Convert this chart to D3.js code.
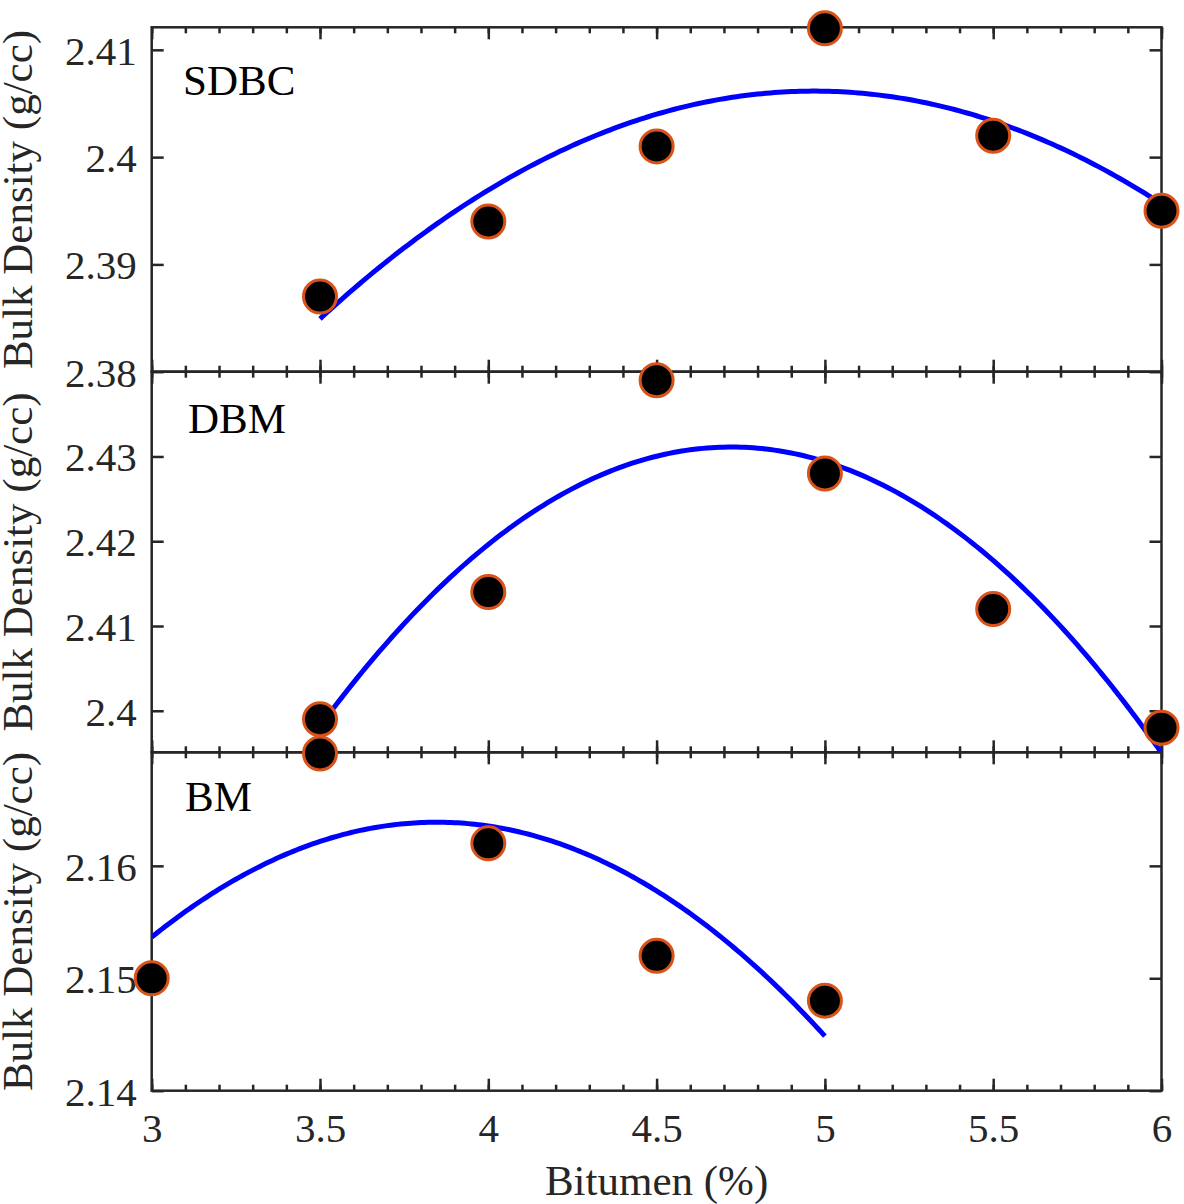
<!DOCTYPE html>
<html>
<head>
<meta charset="utf-8">
<script src="https://cdn.jsdelivr.net/npm/d3@7"></script>
<style>
  html, body { margin: 0; padding: 0; background: #fff; }
  svg { display: block; }
</style>
</head>
<body>
<svg id="chart" width="1184" height="1204"></svg>
<script>
// ---- data ----
const panelNames = ["SDBC", "DBM", "BM"];
const bitumenSDBC = [3.5, 4, 4.5, 5, 5.5, 6];
const densitySDBC = [2.387, 2.394, 2.401, 2.412, 2.402, 2.395];
const bitumenDBM = [3.5, 4, 4.5, 5, 5.5, 6];
const densityDBM = [2.399, 2.414, 2.439, 2.428, 2.412, 2.398];
const bitumenBM = [3, 3.5, 4, 4.5, 5];
const densityBM = [2.150, 2.170, 2.162, 2.152, 2.148];
const xTicks = [3, 3.5, 4, 4.5, 5, 5.5, 6];
const xMinorTicks = d3.range(30, 61).map(d => d / 10);
const yTicksSDBC = [2.38, 2.39, 2.40, 2.41];
const yTicksDBM = [2.40, 2.41, 2.42, 2.43];
const yTicksBM = [2.14, 2.15, 2.16];
const yDomainSDBC = [2.38, 2.4121];
const yDomainDBM = [2.3951, 2.4400];
const yDomainBM = [2.14, 2.1701];
const xDomain = [3, 6];
const xLabel = "Bitumen (%)";
const yLabel = "Bulk Density (g/cc)";

// ---- layout ----
const svg = d3.select("#chart");
const left = 151.7, right = 1161.5;
const panelRanges = [[27.3, 371.7], [371.7, 752.3], [752.3, 1090.7]];
const axisColor = "#262626";
const font = "'Liberation Serif', 'Times New Roman', serif";

const x = d3.scaleLinear().domain(xDomain).range([left, right]);

// least-squares quadratic fit through the plotted points
function quadFit(xs, ys) {
  const n = xs.length;
  let s = [0, 0, 0, 0, 0], t = [0, 0, 0];
  for (let i = 0; i < n; i++) {
    for (let k = 0; k <= 4; k++) s[k] += Math.pow(xs[i], k);
    for (let k = 0; k <= 2; k++) t[k] += ys[i] * Math.pow(xs[i], k);
  }
  const M = [[s[0], s[1], s[2], t[0]], [s[1], s[2], s[3], t[1]], [s[2], s[3], s[4], t[2]]];
  for (let c = 0; c < 3; c++) {
    for (let r = c + 1; r < 3; r++) {
      const f = M[r][c] / M[c][c];
      for (let k = c; k < 4; k++) M[r][k] -= f * M[c][k];
    }
  }
  const coef = [0, 0, 0];
  for (let r = 2; r >= 0; r--) {
    let v = M[r][3];
    for (let k = r + 1; k < 3; k++) v -= M[r][k] * coef[k];
    coef[r] = v / M[r][r];
  }
  return xv => coef[0] + coef[1] * xv + coef[2] * xv * xv;
}

const panels = [
  { name: panelNames[0], xs: bitumenSDBC, ys: densitySDBC, ticks: yTicksSDBC, domain: yDomainSDBC },
  { name: panelNames[1], xs: bitumenDBM, ys: densityDBM, ticks: yTicksDBM, domain: yDomainDBM },
  { name: panelNames[2], xs: bitumenBM, ys: densityBM, ticks: yTicksBM, domain: yDomainBM }
];

const fmt = d => String(+(+d).toFixed(2));
const defs = svg.append("defs");
const layers = panels.map(() => svg.append("g"));
const markerLayers = panels.map(() => svg.append("g"));

panels.forEach((p, i) => {
  const [top, bottom] = panelRanges[i];
  const y = d3.scaleLinear().domain(p.domain).range([bottom, top]);
  const g = layers[i];

  // axes
  const styleAxis = sel => {
    sel.select(".domain").remove();
    sel.selectAll("line").attr("stroke", axisColor).attr("stroke-width", 2.5);
    sel.selectAll("text").attr("fill", axisColor).style("font-family", font).style("font-size", "41px");
  };

  g.append("g").attr("transform", `translate(${left},0)`)
    .call(d3.axisLeft(y).tickValues(p.ticks).tickSize(-12).tickPadding(15).tickFormat(fmt))
    .call(styleAxis)
    .call(s => s.selectAll("text").attr("dy", "0.35em"));
  g.append("g").attr("transform", `translate(${right},0)`)
    .call(d3.axisRight(y).tickValues(p.ticks).tickSize(-12).tickFormat(""))
    .call(styleAxis);

  [[top, d3.axisTop], [bottom, d3.axisBottom]].forEach(([yy, ax]) => {
    g.append("g").attr("transform", `translate(0,${yy})`)
      .call(ax(x).tickValues(xMinorTicks).tickSize(-6).tickFormat(""))
      .call(styleAxis);
    const major = g.append("g").attr("transform", `translate(0,${yy})`)
      .call(ax(x).tickValues(xTicks).tickSize(-12)
        .tickPadding(i === 2 && ax === d3.axisBottom ? 22 : 3)
        .tickFormat(i === 2 && ax === d3.axisBottom ? fmt : ""))
      .call(styleAxis);
    if (i === 2 && ax === d3.axisBottom) major.selectAll("text").attr("dy", "0.71em");
  });

  g.append("rect")
    .attr("x", left).attr("y", top)
    .attr("width", right - left).attr("height", bottom - top)
    .attr("fill", "none").attr("stroke", axisColor).attr("stroke-width", 2.5);

  // panel label
  g.append("text")
    .attr("x", [183, 188, 185][i]).attr("y", top + [68, 61, 59][i])
    .attr("fill", "#000").style("font-family", font).style("font-size", "43px")
    .text(p.name);

  // y label
  g.append("text")
    .attr("transform", `translate(31.7,${(top + bottom) / 2}) rotate(-90)`)
    .attr("text-anchor", "middle")
    .attr("fill", axisColor).style("font-family", font).style("font-size", "43px")
    .text(yLabel);

  // fit curve (clipped)
  const clipId = "clip" + i;
  defs.append("clipPath").attr("id", clipId).append("rect")
    .attr("x", left).attr("y", top).attr("width", right - left).attr("height", bottom - top);
  const f = quadFit(p.xs, p.ys);
  const [x0, x1] = d3.extent(p.xs);
  const samples = d3.range(0, 201).map(k => x0 + (x1 - x0) * k / 200);
  g.append("path")
    .attr("clip-path", `url(#${clipId})`)
    .attr("d", d3.line().x(d => x(d)).y(d => y(f(d)))(samples))
    .attr("fill", "none").attr("stroke", "#0000ff").attr("stroke-width", 5);

  // markers (not clipped)
  markerLayers[i].selectAll("circle").data(p.xs.map((xv, k) => [xv, p.ys[k]]))
    .join("circle")
    .attr("cx", d => x(d[0])).attr("cy", d => y(d[1])).attr("r", 16.5)
    .attr("fill", "#000").attr("stroke", "#D95319").attr("stroke-width", 3);
});

// x label
svg.append("text")
  .attr("x", (left + right) / 2).attr("y", 1195)
  .attr("text-anchor", "middle")
  .attr("fill", axisColor).style("font-family", font).style("font-size", "43px")
  .text(xLabel);
</script>
</body>
</html>
